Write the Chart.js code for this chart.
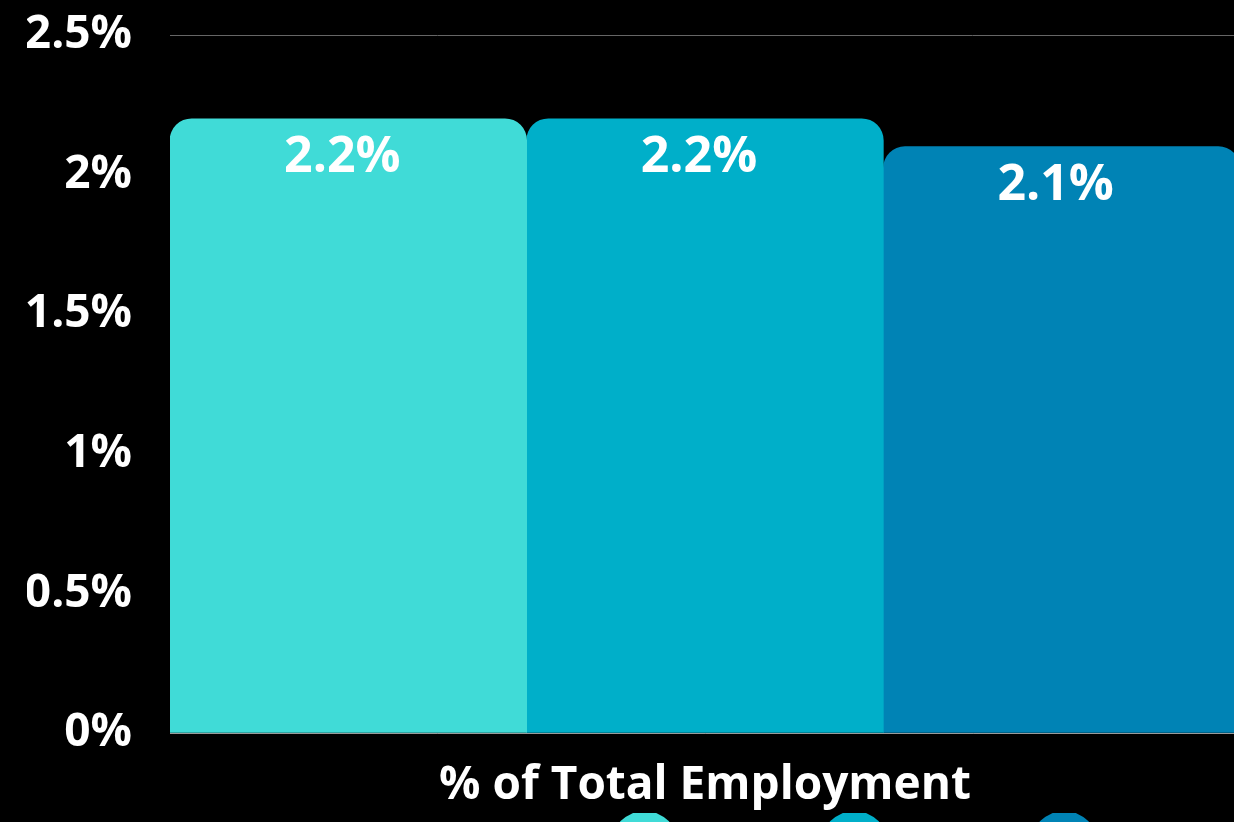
<!DOCTYPE html>
<html>
<head>
<meta charset="utf-8">
<script src="https://cdn.jsdelivr.net/npm/chart.js@4/dist/chart.umd.min.js"></script>
<style>
  html, body { margin: 0; padding: 0; background: #000; overflow: hidden; }
  #wrap { position: absolute; left: 0; top: 0; width: 1240px; height: 879px; }
</style>
</head>
<body>
<div id="wrap"><canvas id="c"></canvas></div>
<script>
const categories = ['% of Total Employment'];
const seriesNames = ['2021', '2022', '2023'];
const seriesValues = [[2.2], [2.2], [2.1]];
const seriesColors = ['#40DBD7', '#00AFC9', '#0083B5'];
const yTicks = [0, 0.5, 1, 1.5, 2, 2.5];

const valueLabels = {
  id: 'valueLabels',
  afterDatasetsDraw(chart) {
    const ctx = chart.ctx;
    ctx.save();
    ctx.fillStyle = '#ffffff';
    ctx.font = 'bold 50px "Open Sans"';
    ctx.textAlign = 'center';
    ctx.textBaseline = 'middle';
    chart.data.datasets.forEach((ds, i) => {
      chart.getDatasetMeta(i).data.forEach((bar, j) => {
        ctx.fillText(ds.data[j] + '%', bar.x - 6, bar.y + 39);
      });
    });
    ctx.restore();
  }
};

new Chart(document.getElementById('c'), {
  type: 'bar',
  data: {
    labels: categories,
    datasets: seriesNames.map((n, i) => ({
      label: n,
      data: seriesValues[i],
      backgroundColor: seriesColors[i],
      borderRadius: { topLeft: 22, topRight: 22, bottomLeft: 0, bottomRight: 0 },
      borderSkipped: 'bottom',
      barPercentage: 1,
      categoryPercentage: 1
    }))
  },
  options: {
    responsive: true,
    maintainAspectRatio: false,
    animation: false,
    layout: { padding: { left: 27, top: 35, right: 0, bottom: 0 } },
    plugins: {
      tooltip: { enabled: false },
      legend: {
        position: 'bottom',
        align: 'end',
        labels: {
          usePointStyle: true,
          pointStyle: 'circle',
          boxHeight: 48,
          pointStyleWidth: 68,
          color: '#ffffff',
          font: { family: '"Open Sans"', size: 48, weight: 'bold' },
          padding: 8
        }
      }
    },
    scales: {
      x: {
        grid: { display: false, drawTicks: false },
        border: { display: true, color: '#9a9a9a', width: 1 },
        ticks: { color: '#ffffff', font: { family: '"Open Sans"', size: 46, weight: 'bold' }, padding: 25 },
        afterFit(axis) { axis.height = 80; axis.paddingLeft = 0; axis.paddingRight = 0; }
      },
      y: {
        min: 0, max: 2.5,
        afterBuildTicks(axis) { axis.ticks = yTicks.map(v => ({ value: v })); },
        grid: { color: '#666666', drawTicks: false, lineWidth: 1 },
        border: { display: false },
        ticks: {
          color: '#ffffff',
          font: { family: '"Open Sans"', size: 46, weight: 'bold' },
          padding: 38,
          callback: v => v + '%'
        },
        afterFit(axis) { axis.width = 143; axis.paddingTop = 0; axis.paddingBottom = 0; }
      }
    }
  },
  plugins: [valueLabels]
});
</script>
</body>
</html>
